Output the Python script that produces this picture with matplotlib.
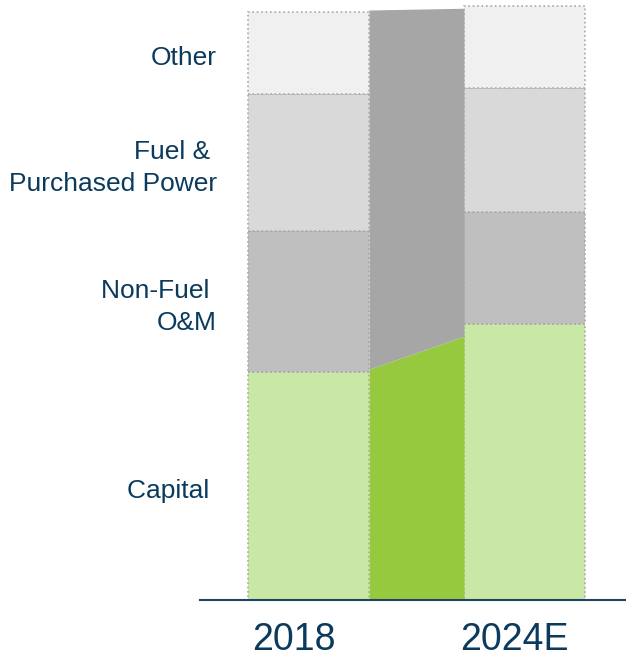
import numpy as np
import matplotlib.pyplot as plt
from matplotlib.transforms import blended_transform_factory, ScaledTranslation

plt.rcParams['font.family'] = ['Liberation Sans', 'DejaVu Sans']

years = ['2018', '2024E']
segments = ['Capital ', 'Non-Fuel \nO&M', 'Fuel & \nPurchased Power', 'Other']
capital = [38.7, 46.9]
non_fuel = [23.9, 19.0]
fuel = [23.4, 21.1]
other = [13.9, 13.8]

# connector band between the bars (left edge, right edge)
band_green = [39.2, 44.8]
band_total = [100.2, 100.5]

seg_colors = ['#c9e8a6', '#bfbfbf', '#d9d9d9', '#f0f0f0']
text_color = '#0b3a5c'

fig = plt.figure(figsize=(6.26, 6.57), dpi=100)
ax = fig.add_axes([200 / 626, 57 / 657, 426 / 626, 600 / 657])

x = np.arange(len(years))
width = 0.56
bottom = np.zeros(len(years))
for vals, col in zip([capital, non_fuel, fuel, other], seg_colors):
    ax.bar(x, vals, width, bottom=bottom, color=col, edgecolor='#a8a8a8',
           linestyle=':', linewidth=1.2)
    bottom += np.array(vals)

bx = [x[0] + width / 2, x[1] - width / 2]
ax.fill_between(bx, 0, band_green, color='#96c93d', linewidth=0)
ax.fill_between(bx, band_green, band_total, color='#a6a6a6', linewidth=0)

# category labels to the left, centred on the 2018 segments
trans = blended_transform_factory(fig.transFigure, ax.transData)
mids = np.cumsum([0] + [capital[0], non_fuel[0], fuel[0]]) + \
    np.array([capital[0], non_fuel[0], fuel[0], other[0]]) / 2
for label, m in zip(segments, mids):
    ax.text(217 / 626, m - 0.9, label, transform=trans, ha='right', va='center',
            fontsize=19, color=text_color, linespacing=1.42)

ax.set_xlim(-0.502, 1.47)
ax.set_ylim(0, 101.9)
for s in ['top', 'right', 'left']:
    ax.spines[s].set_visible(False)
ax.spines['bottom'].set_color('#1f4461')
ax.spines['bottom'].set_linewidth(1.5)
ax.set_yticks([])
ax.set_xticks(x)
ax.set_xticklabels(years, fontsize=27, color=text_color)
ax.tick_params(axis='x', length=0, pad=16)
for lbl, dx in zip(ax.get_xticklabels(), [-15, -10]):
    lbl.set_transform(lbl.get_transform() +
                      ScaledTranslation(dx / 100, 0, fig.dpi_scale_trans))

fig.savefig('out.png', dpi=100)
